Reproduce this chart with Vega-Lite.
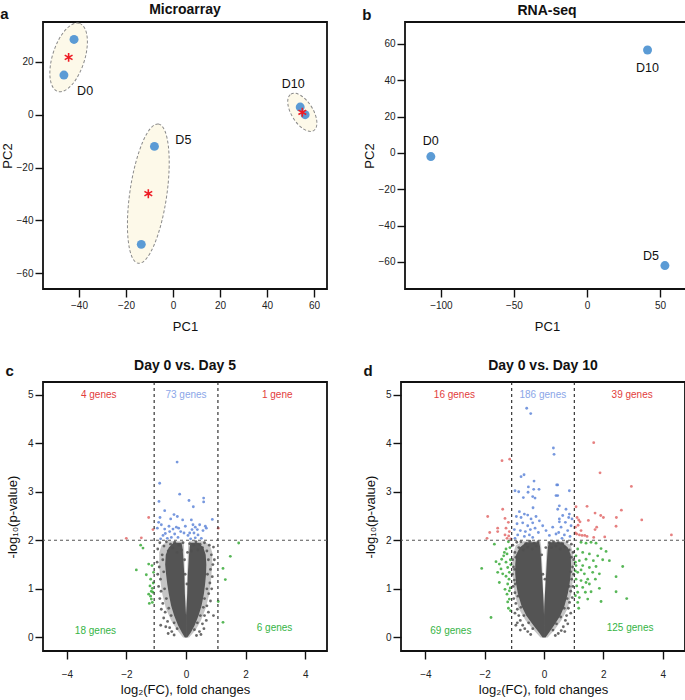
{
"$schema": "https://vega.github.io/schema/vega-lite/v6.json",
"padding": {"left": 0, "top": 2, "right": 0, "bottom": 0},
"config": {
  "font": "Liberation Sans",
  "view": {"stroke": "#111", "strokeWidth": 1.8},
  "axis": {"domain": false, "grid": false, "tickSize": 8, "tickWidth": 1.4, "tickColor": "#111", "labelFontSize": 10, "labelColor": "#222", "labelPadding": 2, "titleFontSize": 13, "titleFontWeight": "normal", "titleColor": "#111", "labelFont": "Liberation Sans", "titleFont": "Liberation Sans"},
  "title": {"fontSize": 14, "fontWeight": "bold", "font": "Liberation Sans", "color": "#111", "offset": 8}
},
"datasets": {
  "pcaA": [{"x":-42.1,"y":28.5,"grp":"D0"},{"x":-46.4,"y":15.0,"grp":"D0"},{"x":-7.9,"y":-12.0,"grp":"D5"},{"x":-13.5,"y":-49.1,"grp":"D5"},{"x":54.1,"y":2.9,"grp":"D10"},{"x":56.2,"y":0.0,"grp":"D10"}],
  "centA": [{"x":-44.4,"y":21.7,"grp":"D0"},{"x":-10.5,"y":-29.9,"grp":"D5"},{"x":55.0,"y":0.9,"grp":"D10"}],
  "labA": [{"x":-37.4,"y":8.9,"t":"D0"},{"x":4.4,"y":-9.7,"t":"D5"},{"x":51.1,"y":11.7,"t":"D10"}],
  "pcaB": [{"x":-106.9,"y":-2.0,"grp":"D0"},{"x":41.5,"y":56.7,"grp":"D10"},{"x":53.4,"y":-62.0,"grp":"D5"}],
  "labB": [{"x":-107.0,"y":6.6,"t":"D0"},{"x":41.5,"y":46.6,"t":"D10"},{"x":43.8,"y":-56.7,"t":"D5"}],
  "haloC": [
    {"y":0,"x":-0.1,"x2":0,"s":"L"},{"y":0.15,"x":-0.3,"x2":0,"s":"L"},{"y":0.35,"x":-0.5,"x2":0,"s":"L"},{"y":0.6,"x":-0.68,"x2":0,"s":"L"},{"y":0.9,"x":-0.8,"x2":-0.02,"s":"L"},{"y":1.2,"x":-0.87,"x2":-0.03,"s":"L"},{"y":1.5,"x":-0.9,"x2":-0.05,"s":"L"},{"y":1.75,"x":-0.9,"x2":-0.06,"s":"L"},{"y":1.9,"x":-0.82,"x2":-0.07,"s":"L"},{"y":1.98,"x":-0.6,"x2":-0.1,"s":"L"},
    {"y":0,"x":0,"x2":0.1,"s":"R"},{"y":0.15,"x":0,"x2":0.32,"s":"R"},{"y":0.35,"x":0,"x2":0.5,"s":"R"},{"y":0.6,"x":0,"x2":0.66,"s":"R"},{"y":0.9,"x":0.02,"x2":0.78,"s":"R"},{"y":1.2,"x":0.03,"x2":0.84,"s":"R"},{"y":1.5,"x":0.05,"x2":0.88,"s":"R"},{"y":1.75,"x":0.06,"x2":0.88,"s":"R"},{"y":1.9,"x":0.07,"x2":0.8,"s":"R"},{"y":1.98,"x":0.1,"x2":0.6,"s":"R"}
  ],
  "haloD": [
    {"y":0,"x":-0.12,"x2":0,"s":"L"},{"y":0.15,"x":-0.35,"x2":0,"s":"L"},{"y":0.35,"x":-0.62,"x2":0,"s":"L"},{"y":0.6,"x":-0.86,"x2":0,"s":"L"},{"y":0.9,"x":-0.99,"x2":-0.02,"s":"L"},{"y":1.2,"x":-1.04,"x2":-0.04,"s":"L"},{"y":1.5,"x":-1.06,"x2":-0.06,"s":"L"},{"y":1.75,"x":-1.03,"x2":-0.08,"s":"L"},{"y":1.9,"x":-0.95,"x2":-0.1,"s":"L"},{"y":1.98,"x":-0.7,"x2":-0.12,"s":"L"},
    {"y":0,"x":0,"x2":0.12,"s":"R"},{"y":0.15,"x":0,"x2":0.35,"s":"R"},{"y":0.35,"x":0,"x2":0.58,"s":"R"},{"y":0.6,"x":0,"x2":0.8,"s":"R"},{"y":0.9,"x":0.02,"x2":0.92,"s":"R"},{"y":1.2,"x":0.04,"x2":0.97,"s":"R"},{"y":1.5,"x":0.06,"x2":0.99,"s":"R"},{"y":1.75,"x":0.08,"x2":0.97,"s":"R"},{"y":1.9,"x":0.1,"x2":0.9,"s":"R"},{"y":1.98,"x":0.12,"x2":0.68,"s":"R"}
  ],
  "coreC": [
    {"y":0,"x":-0.04,"x2":0,"s":"L"},{"y":0.1,"x":-0.14,"x2":0,"s":"L"},{"y":0.25,"x":-0.27,"x2":0,"s":"L"},{"y":0.45,"x":-0.4,"x2":0,"s":"L"},{"y":0.65,"x":-0.5,"x2":-0.02,"s":"L"},{"y":0.9,"x":-0.58,"x2":-0.04,"s":"L"},{"y":1.1,"x":-0.63,"x2":-0.05,"s":"L"},{"y":1.3,"x":-0.67,"x2":-0.06,"s":"L"},{"y":1.5,"x":-0.7,"x2":-0.08,"s":"L"},{"y":1.7,"x":-0.68,"x2":-0.1,"s":"L"},{"y":1.85,"x":-0.58,"x2":-0.12,"s":"L"},{"y":1.95,"x":-0.42,"x2":-0.15,"s":"L"},
    {"y":0,"x":0,"x2":0.04,"s":"R"},{"y":0.1,"x":0,"x2":0.16,"s":"R"},{"y":0.25,"x":0,"x2":0.29,"s":"R"},{"y":0.45,"x":0,"x2":0.42,"s":"R"},{"y":0.65,"x":0.02,"x2":0.52,"s":"R"},{"y":0.9,"x":0.04,"x2":0.6,"s":"R"},{"y":1.1,"x":0.05,"x2":0.64,"s":"R"},{"y":1.3,"x":0.06,"x2":0.67,"s":"R"},{"y":1.5,"x":0.08,"x2":0.68,"s":"R"},{"y":1.7,"x":0.1,"x2":0.66,"s":"R"},{"y":1.85,"x":0.12,"x2":0.58,"s":"R"},{"y":1.95,"x":0.15,"x2":0.42,"s":"R"}
  ],
  "coreD": [
    {"y":0,"x":-0.05,"x2":0,"s":"L"},{"y":0.1,"x":-0.17,"x2":0,"s":"L"},{"y":0.25,"x":-0.36,"x2":0,"s":"L"},{"y":0.45,"x":-0.6,"x2":0,"s":"L"},{"y":0.65,"x":-0.76,"x2":-0.01,"s":"L"},{"y":0.9,"x":-0.88,"x2":-0.03,"s":"L"},{"y":1.1,"x":-0.94,"x2":-0.05,"s":"L"},{"y":1.3,"x":-0.97,"x2":-0.07,"s":"L"},{"y":1.5,"x":-0.97,"x2":-0.09,"s":"L"},{"y":1.7,"x":-0.94,"x2":-0.11,"s":"L"},{"y":1.85,"x":-0.82,"x2":-0.13,"s":"L"},{"y":1.96,"x":-0.6,"x2":-0.16,"s":"L"},
    {"y":0,"x":0,"x2":0.05,"s":"R"},{"y":0.1,"x":0,"x2":0.17,"s":"R"},{"y":0.25,"x":0,"x2":0.34,"s":"R"},{"y":0.45,"x":0,"x2":0.55,"s":"R"},{"y":0.65,"x":0.01,"x2":0.69,"s":"R"},{"y":0.9,"x":0.03,"x2":0.8,"s":"R"},{"y":1.1,"x":0.05,"x2":0.86,"s":"R"},{"y":1.3,"x":0.07,"x2":0.9,"s":"R"},{"y":1.5,"x":0.09,"x2":0.91,"s":"R"},{"y":1.7,"x":0.11,"x2":0.9,"s":"R"},{"y":1.85,"x":0.13,"x2":0.8,"s":"R"},{"y":1.96,"x":0.16,"x2":0.6,"s":"R"}
  ],
  "volC": [
    {"x":-0.95,"y":1.82,"g":"n"},{"x":-0.88,"y":1.95,"g":"n"},{"x":-0.8,"y":1.7,"g":"n"},{"x":-0.74,"y":1.88,"g":"n"},{"x":-0.66,"y":1.97,"g":"n"},{"x":-0.6,"y":1.78,"g":"n"},{"x":-0.52,"y":1.92,"g":"n"},{"x":-0.45,"y":1.84,"g":"n"},{"x":-0.38,"y":1.96,"g":"n"},{"x":-0.3,"y":1.75,"g":"n"},{"x":-0.24,"y":1.9,"g":"n"},{"x":-0.15,"y":1.8,"g":"n"},{"x":-0.1,"y":1.95,"g":"n"},{"x":0.12,"y":1.93,"g":"n"},{"x":0.18,"y":1.78,"g":"n"},{"x":0.26,"y":1.9,"g":"n"},{"x":0.33,"y":1.97,"g":"n"},{"x":0.4,"y":1.8,"g":"n"},{"x":0.47,"y":1.92,"g":"n"},{"x":0.55,"y":1.85,"g":"n"},{"x":0.62,"y":1.95,"g":"n"},{"x":0.7,"y":1.78,"g":"n"},{"x":0.78,"y":1.9,"g":"n"},{"x":0.85,"y":1.7,"g":"n"},{"x":0.92,"y":1.86,"g":"n"},{"x":0.95,"y":1.6,"g":"n"},
    {"x":-0.97,"y":1.55,"g":"n"},{"x":-0.9,"y":1.45,"g":"n"},{"x":-0.95,"y":1.3,"g":"n"},{"x":-0.86,"y":1.2,"g":"n"},{"x":-0.92,"y":1.05,"g":"n"},{"x":-0.84,"y":0.95,"g":"n"},{"x":-0.88,"y":0.8,"g":"n"},{"x":-0.78,"y":0.7,"g":"n"},{"x":-0.83,"y":0.58,"g":"n"},{"x":-0.7,"y":0.52,"g":"n"},{"x":-0.75,"y":0.4,"g":"n"},{"x":-0.62,"y":0.33,"g":"n"},{"x":-0.68,"y":0.22,"g":"n"},{"x":-0.55,"y":0.2,"g":"n"},{"x":-0.48,"y":0.12,"g":"n"},{"x":-0.85,"y":0.25,"g":"n"},{"x":-0.6,"y":0.08,"g":"n"},{"x":-0.4,"y":0.05,"g":"n"},
    {"x":0.9,"y":1.5,"g":"n"},{"x":0.82,"y":1.4,"g":"n"},{"x":0.88,"y":1.25,"g":"n"},{"x":0.8,"y":1.12,"g":"n"},{"x":0.86,"y":1.0,"g":"n"},{"x":0.76,"y":0.9,"g":"n"},{"x":0.82,"y":0.75,"g":"n"},{"x":0.7,"y":0.65,"g":"n"},{"x":0.75,"y":0.52,"g":"n"},{"x":0.62,"y":0.45,"g":"n"},{"x":0.68,"y":0.35,"g":"n"},{"x":0.55,"y":0.28,"g":"n"},{"x":0.6,"y":0.18,"g":"n"},{"x":0.45,"y":0.12,"g":"n"},{"x":0.92,"y":0.45,"g":"n"},{"x":0.5,"y":0.06,"g":"n"},{"x":0.35,"y":0.04,"g":"n"},
    {"x":-0.78,"y":1.6,"g":"n"},{"x":-0.75,"y":1.35,"g":"n"},{"x":-0.72,"y":1.0,"g":"n"},{"x":-0.66,"y":0.8,"g":"n"},{"x":-0.58,"y":0.6,"g":"n"},{"x":-0.5,"y":0.45,"g":"n"},{"x":-0.4,"y":0.3,"g":"n"},{"x":-0.3,"y":0.18,"g":"n"},{"x":0.75,"y":1.6,"g":"n"},{"x":0.72,"y":1.3,"g":"n"},{"x":0.7,"y":1.0,"g":"n"},{"x":0.62,"y":0.8,"g":"n"},{"x":0.58,"y":0.62,"g":"n"},{"x":0.48,"y":0.45,"g":"n"},{"x":0.38,"y":0.3,"g":"n"},{"x":0.28,"y":0.16,"g":"n"},{"x":-0.05,"y":1.6,"g":"n"},{"x":0.05,"y":1.75,"g":"n"},{"x":-0.03,"y":1.3,"g":"n"},{"x":0.03,"y":1.1,"g":"n"},
    {"x":-0.3,"y":3.61,"g":"b"},{"x":-0.885,"y":3.175,"g":"b"},{"x":-0.908,"y":2.8,"g":"b"},{"x":-0.214,"y":2.95,"g":"b"},{"x":-0.717,"y":2.61,"g":"b"},{"x":0.099,"y":2.82,"g":"b"},{"x":0.244,"y":2.69,"g":"b"},{"x":0.591,"y":2.87,"g":"b"},{"x":0.591,"y":2.79,"g":"b"},{"x":0.882,"y":2.43,"g":"b"},{"x":-0.404,"y":2.53,"g":"b"},{"x":-0.292,"y":2.49,"g":"b"},{"x":-0.516,"y":2.44,"g":"b"},{"x":-0.114,"y":2.42,"g":"b"},{"x":-0.874,"y":2.47,"g":"b"},{"x":-0.919,"y":2.37,"g":"b"},{"x":-0.829,"y":2.32,"g":"b"},{"x":-0.963,"y":2.25,"g":"b"},{"x":-0.717,"y":2.23,"g":"b"},{"x":-0.572,"y":2.29,"g":"b"},{"x":-0.438,"y":2.23,"g":"b"},{"x":-0.326,"y":2.27,"g":"b"},{"x":-0.248,"y":2.25,"g":"b"},{"x":-0.18,"y":2.18,"g":"b"},{"x":-0.382,"y":2.13,"g":"b"},{"x":-0.493,"y":2.06,"g":"b"},{"x":-0.773,"y":2.1,"g":"b"},{"x":-0.628,"y":2.04,"g":"b"},{"x":-0.852,"y":2.03,"g":"b"},{"x":-0.27,"y":2.06,"g":"b"},{"x":-0.024,"y":2.29,"g":"b"},{"x":0.178,"y":2.42,"g":"b"},{"x":0.233,"y":2.32,"g":"b"},{"x":0.31,"y":2.27,"g":"b"},{"x":0.457,"y":2.32,"g":"b"},{"x":0.379,"y":2.22,"g":"b"},{"x":0.2,"y":2.22,"g":"b"},{"x":0.122,"y":2.15,"g":"b"},{"x":0.266,"y":2.15,"g":"b"},{"x":0.401,"y":2.11,"g":"b"},{"x":0.569,"y":2.2,"g":"b"},{"x":0.681,"y":2.25,"g":"b"},{"x":0.647,"y":2.29,"g":"b"},{"x":0.31,"y":2.05,"g":"b"},{"x":0.065,"y":2.1,"g":"b"},{"x":0.155,"y":2.03,"g":"b"},{"x":-0.55,"y":2.18,"g":"b"},{"x":-0.695,"y":2.14,"g":"b"},{"x":-0.069,"y":2.15,"g":"b"},{"x":0.513,"y":2.04,"g":"b"},
    {"x":-1.254,"y":2.47,"g":"r"},{"x":-1.109,"y":2.22,"g":"r"},{"x":-2.004,"y":2.04,"g":"r"},{"x":-1.5,"y":2.05,"g":"r"},{"x":1.08,"y":2.25,"g":"r"},
    {"x":-1.523,"y":1.9,"g":"g"},{"x":-1.445,"y":1.84,"g":"g"},{"x":-1.254,"y":1.51,"g":"g"},{"x":-1.668,"y":1.39,"g":"g"},{"x":-1.333,"y":1.29,"g":"g"},{"x":-1.187,"y":1.2,"g":"g"},{"x":-1.131,"y":1.01,"g":"g"},{"x":-1.165,"y":0.95,"g":"g"},{"x":-1.254,"y":0.89,"g":"g"},{"x":-1.165,"y":0.79,"g":"g"},{"x":-1.232,"y":0.7,"g":"g"},{"x":-1.142,"y":1.48,"g":"g"},{"x":-1.09,"y":1.34,"g":"g"},{"x":-1.21,"y":1.06,"g":"g"},{"x":-1.11,"y":0.93,"g":"g"},{"x":-1.13,"y":0.72,"g":"g"},{"x":-1.19,"y":0.85,"g":"g"},{"x":-1.1,"y":1.12,"g":"g"},
    {"x":1.766,"y":1.945,"g":"g"},{"x":1.486,"y":1.67,"g":"g"},{"x":1.24,"y":1.42,"g":"g"},{"x":1.318,"y":1.19,"g":"g"},{"x":1.08,"y":0.74,"g":"g"},{"x":1.24,"y":0.31,"g":"g"}
  ],
  "volD": [
    {"x":-1.05,"y":1.9,"g":"n"},{"x":-0.98,"y":1.75,"g":"n"},{"x":-0.92,"y":1.96,"g":"n"},{"x":-0.85,"y":1.85,"g":"n"},{"x":-0.78,"y":1.97,"g":"n"},{"x":-0.7,"y":1.8,"g":"n"},{"x":-0.62,"y":1.93,"g":"n"},{"x":-0.55,"y":1.86,"g":"n"},{"x":-0.48,"y":1.98,"g":"n"},{"x":-0.4,"y":1.82,"g":"n"},{"x":-0.33,"y":1.94,"g":"n"},{"x":-0.26,"y":1.88,"g":"n"},{"x":-0.2,"y":1.97,"g":"n"},{"x":0.18,"y":1.95,"g":"n"},{"x":0.25,"y":1.85,"g":"n"},{"x":0.32,"y":1.97,"g":"n"},{"x":0.4,"y":1.88,"g":"n"},{"x":0.48,"y":1.95,"g":"n"},{"x":0.55,"y":1.82,"g":"n"},{"x":0.63,"y":1.93,"g":"n"},{"x":0.7,"y":1.86,"g":"n"},{"x":0.78,"y":1.97,"g":"n"},{"x":0.85,"y":1.8,"g":"n"},{"x":0.92,"y":1.92,"g":"n"},{"x":0.98,"y":1.75,"g":"n"},
    {"x":-1.06,"y":1.6,"g":"n"},{"x":-1.03,"y":1.45,"g":"n"},{"x":-1.07,"y":1.3,"g":"n"},{"x":-1.0,"y":1.18,"g":"n"},{"x":-1.04,"y":1.05,"g":"n"},{"x":-0.98,"y":0.92,"g":"n"},{"x":-1.02,"y":0.8,"g":"n"},{"x":-0.95,"y":0.7,"g":"n"},{"x":-0.9,"y":0.58,"g":"n"},{"x":-0.98,"y":0.5,"g":"n"},{"x":-0.85,"y":0.45,"g":"n"},{"x":-0.8,"y":0.35,"g":"n"},{"x":-0.9,"y":0.3,"g":"n"},{"x":-0.72,"y":0.25,"g":"n"},{"x":-0.65,"y":0.18,"g":"n"},{"x":-0.55,"y":0.12,"g":"n"},{"x":-0.8,"y":0.15,"g":"n"},{"x":-0.45,"y":0.06,"g":"n"},{"x":-0.95,"y":0.25,"g":"n"},
    {"x":1.0,"y":1.6,"g":"n"},{"x":0.96,"y":1.45,"g":"n"},{"x":1.0,"y":1.3,"g":"n"},{"x":0.93,"y":1.2,"g":"n"},{"x":0.97,"y":1.05,"g":"n"},{"x":0.9,"y":0.95,"g":"n"},{"x":0.95,"y":0.82,"g":"n"},{"x":0.86,"y":0.72,"g":"n"},{"x":0.82,"y":0.6,"g":"n"},{"x":0.9,"y":0.5,"g":"n"},{"x":0.76,"y":0.45,"g":"n"},{"x":0.72,"y":0.35,"g":"n"},{"x":0.8,"y":0.28,"g":"n"},{"x":0.65,"y":0.22,"g":"n"},{"x":0.58,"y":0.14,"g":"n"},{"x":0.48,"y":0.08,"g":"n"},{"x":0.7,"y":0.12,"g":"n"},{"x":0.38,"y":0.04,"g":"n"},
    {"x":-0.95,"y":1.65,"g":"n"},{"x":-0.99,"y":1.4,"g":"n"},{"x":-0.97,"y":1.1,"g":"n"},{"x":-0.88,"y":0.85,"g":"n"},{"x":-0.78,"y":0.62,"g":"n"},{"x":-0.68,"y":0.45,"g":"n"},{"x":-0.52,"y":0.3,"g":"n"},{"x":-0.38,"y":0.18,"g":"n"},{"x":0.92,"y":1.65,"g":"n"},{"x":0.9,"y":1.35,"g":"n"},{"x":0.85,"y":1.05,"g":"n"},{"x":0.78,"y":0.8,"g":"n"},{"x":0.68,"y":0.6,"g":"n"},{"x":0.56,"y":0.42,"g":"n"},{"x":0.42,"y":0.28,"g":"n"},{"x":0.3,"y":0.15,"g":"n"},{"x":-0.08,"y":1.7,"g":"n"},{"x":0.06,"y":1.85,"g":"n"},{"x":-0.04,"y":1.3,"g":"n"},{"x":0.03,"y":1.2,"g":"n"},
    {"x":-0.584,"y":4.72,"g":"b"},{"x":-0.449,"y":4.61,"g":"b"},{"x":0.315,"y":3.9,"g":"b"},{"x":0.337,"y":3.77,"g":"b"},{"x":-0.775,"y":3.31,"g":"b"},{"x":-0.674,"y":3.35,"g":"b"},{"x":-0.337,"y":3.22,"g":"b"},{"x":-0.978,"y":3.02,"g":"b"},{"x":-0.854,"y":3.0,"g":"b"},{"x":-0.528,"y":3.1,"g":"b"},{"x":-0.539,"y":2.99,"g":"b"},{"x":-0.348,"y":3.05,"g":"b"},{"x":-0.169,"y":3.05,"g":"b"},{"x":-0.382,"y":2.9,"g":"b"},{"x":-0.303,"y":2.87,"g":"b"},{"x":-0.697,"y":2.88,"g":"b"},{"x":0.427,"y":3.14,"g":"b"},{"x":0.404,"y":2.92,"g":"b"},{"x":-0.371,"y":2.67,"g":"b"},{"x":-0.831,"y":2.59,"g":"b"},{"x":-0.663,"y":2.54,"g":"b"},{"x":-0.933,"y":2.49,"g":"b"},{"x":-0.775,"y":2.47,"g":"b"},{"x":-0.55,"y":2.52,"g":"b"},{"x":-0.438,"y":2.44,"g":"b"},{"x":-0.27,"y":2.49,"g":"b"},{"x":-0.157,"y":2.4,"g":"b"},{"x":-0.91,"y":2.34,"g":"b"},{"x":-0.719,"y":2.36,"g":"b"},{"x":-0.55,"y":2.3,"g":"b"},{"x":-0.382,"y":2.36,"g":"b"},{"x":-1.0,"y":2.22,"g":"b"},{"x":-0.798,"y":2.2,"g":"b"},{"x":-0.629,"y":2.18,"g":"b"},{"x":-0.46,"y":2.22,"g":"b"},{"x":-0.303,"y":2.25,"g":"b"},{"x":-0.191,"y":2.16,"g":"b"},{"x":-0.888,"y":2.11,"g":"b"},{"x":-0.663,"y":2.08,"g":"b"},{"x":-0.494,"y":2.11,"g":"b"},{"x":-0.382,"y":2.06,"g":"b"},{"x":-0.978,"y":2.04,"g":"b"},{"x":-0.045,"y":2.3,"g":"b"},{"x":0.067,"y":2.2,"g":"b"},{"x":0.18,"y":2.1,"g":"b"},{"x":0.292,"y":2.27,"g":"b"},{"x":0.461,"y":2.64,"g":"b"},{"x":0.517,"y":2.38,"g":"b"},{"x":0.404,"y":2.13,"g":"b"},
    {"x":0.46,"y":3.14,"g":"b"},{"x":0.853,"y":3.02,"g":"b"},{"x":0.46,"y":2.92,"g":"b"},{"x":0.516,"y":2.71,"g":"b"},{"x":0.74,"y":2.64,"g":"b"},{"x":0.629,"y":2.51,"g":"b"},{"x":0.853,"y":2.54,"g":"b"},{"x":0.516,"y":2.44,"g":"b"},{"x":0.719,"y":2.37,"g":"b"},{"x":0.91,"y":2.3,"g":"b"},{"x":0.573,"y":2.27,"g":"b"},{"x":0.797,"y":2.2,"g":"b"},{"x":0.494,"y":2.16,"g":"b"},{"x":0.685,"y":2.11,"g":"b"},{"x":0.876,"y":2.08,"g":"b"},{"x":0.606,"y":2.04,"g":"b"},{"x":0.943,"y":2.44,"g":"b"},{"x":0.831,"y":2.47,"g":"b"},
    {"x":-1.416,"y":3.64,"g":"r"},{"x":-1.157,"y":3.67,"g":"r"},{"x":-1.393,"y":2.64,"g":"r"},{"x":-1.899,"y":2.49,"g":"r"},{"x":-1.315,"y":2.45,"g":"r"},{"x":-1.202,"y":2.37,"g":"r"},{"x":-1.562,"y":2.25,"g":"r"},{"x":-1.281,"y":2.25,"g":"r"},{"x":-1.831,"y":2.16,"g":"r"},{"x":-1.169,"y":2.18,"g":"r"},{"x":-1.562,"y":2.18,"g":"r"},{"x":-1.315,"y":2.11,"g":"r"},{"x":-1.921,"y":2.04,"g":"r"},{"x":-1.247,"y":2.04,"g":"r"},{"x":-1.191,"y":2.09,"g":"r"},{"x":-1.12,"y":2.03,"g":"r"},
    {"x":1.674,"y":4.01,"g":"r"},{"x":1.887,"y":3.39,"g":"r"},{"x":2.943,"y":3.11,"g":"r"},{"x":1.078,"y":2.69,"g":"r"},{"x":1.449,"y":2.7,"g":"r"},{"x":1.719,"y":2.56,"g":"r"},{"x":1.91,"y":2.51,"g":"r"},{"x":2.0,"y":2.47,"g":"r"},{"x":2.606,"y":2.62,"g":"r"},{"x":2.438,"y":2.47,"g":"r"},{"x":3.292,"y":2.42,"g":"r"},{"x":1.112,"y":2.47,"g":"r"},{"x":1.168,"y":2.42,"g":"r"},{"x":1.213,"y":2.38,"g":"r"},{"x":1.494,"y":2.41,"g":"r"},{"x":1.775,"y":2.27,"g":"r"},{"x":1.719,"y":2.22,"g":"r"},{"x":2.427,"y":2.29,"g":"r"},{"x":1.247,"y":2.2,"g":"r"},{"x":1.056,"y":2.15,"g":"r"},{"x":1.101,"y":2.13,"g":"r"},{"x":1.191,"y":2.11,"g":"r"},{"x":1.281,"y":2.1,"g":"r"},{"x":1.371,"y":2.1,"g":"r"},{"x":1.449,"y":2.08,"g":"r"},{"x":1.674,"y":2.06,"g":"r"},{"x":2.045,"y":2.07,"g":"r"},{"x":4.292,"y":2.11,"g":"r"},{"x":1.056,"y":2.27,"g":"r"},{"x":1.146,"y":2.31,"g":"r"},
    {"x":-1.674,"y":1.92,"g":"g"},{"x":-1.202,"y":1.97,"g":"g"},{"x":-1.281,"y":1.82,"g":"g"},{"x":-1.247,"y":1.72,"g":"g"},{"x":-1.36,"y":1.68,"g":"g"},{"x":-1.618,"y":1.56,"g":"g"},{"x":-1.506,"y":1.51,"g":"g"},{"x":-1.281,"y":1.55,"g":"g"},{"x":-2.101,"y":1.42,"g":"g"},{"x":-1.45,"y":1.41,"g":"g"},{"x":-1.225,"y":1.44,"g":"g"},{"x":-1.562,"y":1.34,"g":"g"},{"x":-1.393,"y":1.31,"g":"g"},{"x":-1.281,"y":1.26,"g":"g"},{"x":-1.169,"y":1.34,"g":"g"},{"x":-1.506,"y":1.13,"g":"g"},{"x":-1.225,"y":1.1,"g":"g"},{"x":-1.315,"y":0.99,"g":"g"},{"x":-1.169,"y":0.96,"g":"g"},{"x":-1.247,"y":0.89,"g":"g"},{"x":-1.169,"y":0.79,"g":"g"},{"x":-1.225,"y":0.73,"g":"g"},{"x":-1.787,"y":0.41,"g":"g"},{"x":-1.337,"y":1.75,"g":"g"},{"x":-1.135,"y":1.6,"g":"g"},{"x":-1.427,"y":1.61,"g":"g"},{"x":-1.15,"y":1.85,"g":"g"},{"x":-1.12,"y":1.5,"g":"g"},{"x":-1.18,"y":1.2,"g":"g"},{"x":-1.14,"y":1.02,"g":"g"},{"x":-1.2,"y":0.6,"g":"g"},{"x":-1.13,"y":0.55,"g":"g"},
    {"x":1.247,"y":1.96,"g":"g"},{"x":1.415,"y":1.94,"g":"g"},{"x":1.584,"y":1.96,"g":"g"},{"x":1.752,"y":1.94,"g":"g"},{"x":1.921,"y":1.83,"g":"g"},{"x":2.09,"y":1.77,"g":"g"},{"x":1.134,"y":1.82,"g":"g"},{"x":1.303,"y":1.75,"g":"g"},{"x":1.528,"y":1.72,"g":"g"},{"x":1.809,"y":1.68,"g":"g"},{"x":1.078,"y":1.68,"g":"g"},{"x":1.19,"y":1.58,"g":"g"},{"x":1.415,"y":1.61,"g":"g"},{"x":1.662,"y":1.58,"g":"g"},{"x":1.977,"y":1.6,"g":"g"},{"x":2.202,"y":1.58,"g":"g"},{"x":1.078,"y":1.48,"g":"g"},{"x":1.303,"y":1.48,"g":"g"},{"x":1.528,"y":1.44,"g":"g"},{"x":1.752,"y":1.46,"g":"g"},{"x":2.651,"y":1.46,"g":"g"},{"x":1.134,"y":1.34,"g":"g"},{"x":1.359,"y":1.31,"g":"g"},{"x":1.64,"y":1.34,"g":"g"},{"x":1.865,"y":1.31,"g":"g"},{"x":1.078,"y":1.2,"g":"g"},{"x":1.247,"y":1.17,"g":"g"},{"x":1.472,"y":1.2,"g":"g"},{"x":1.73,"y":1.2,"g":"g"},{"x":2.427,"y":1.25,"g":"g"},{"x":1.101,"y":1.06,"g":"g"},{"x":1.303,"y":1.03,"g":"g"},{"x":1.528,"y":1.1,"g":"g"},{"x":1.865,"y":1.01,"g":"g"},{"x":1.134,"y":0.93,"g":"g"},{"x":1.393,"y":0.93,"g":"g"},{"x":1.584,"y":0.94,"g":"g"},{"x":2.427,"y":0.94,"g":"g"},{"x":1.19,"y":0.82,"g":"g"},{"x":1.472,"y":0.79,"g":"g"},{"x":2.786,"y":0.8,"g":"g"},{"x":1.921,"y":0.74,"g":"g"},{"x":1.134,"y":0.72,"g":"g"},{"x":1.168,"y":0.6,"g":"g"},{"x":1.056,"y":1.55,"g":"g"},{"x":1.056,"y":1.37,"g":"g"},{"x":1.056,"y":0.86,"g":"g"},{"x":1.247,"y":1.39,"g":"g"},{"x":1.415,"y":1.13,"g":"g"}
  ],
  "txtC": [{"x":-2.93,"y":5.0,"t":"4 genes","g":"r"},{"x":0.0,"y":5.0,"t":"73 genes","g":"b"},{"x":3.06,"y":5.0,"t":"1 gene","g":"r"},{"x":-3.04,"y":0.14,"t":"18 genes","g":"g"},{"x":2.97,"y":0.19,"t":"6 genes","g":"g"}],
  "txtD": [{"x":-3.02,"y":5.0,"t":"16 genes","g":"r"},{"x":-0.04,"y":5.0,"t":"186 genes","g":"b"},{"x":2.97,"y":5.0,"t":"39 genes","g":"r"},{"x":-3.14,"y":0.14,"t":"69 genes","g":"g"},{"x":2.9,"y":0.19,"t":"125 genes","g":"g"}],
  "vC": [{"x":-1.07},{"x":1.07}],
  "vD": [{"x":-1.09},{"x":1.02}],
  "hl": [{"y":2}]
},
"spacing": 24,
"vconcat": [
 {"spacing": 34, "hconcat": [
  {"title": {"text": "a", "anchor": "start", "frame": "bounds", "fontSize": 15, "dy": 20, "offset": 0},
   "vconcat": [{
    "title": {"text": "Microarray", "offset": 4},
    "width": 284, "height": 267,
    "layer": [
     {"data": {"name": "centA"}, "transform": [{"filter": "datum.grp === 'D0'"}],
      "mark": {"type": "point", "shape": "M0,-1A0.45,1,0,1,1,0,1A0.45,1,0,1,1,0,-1Z", "size": 5100, "angle": 17.7, "filled": true, "fill": "#fdf9e9", "stroke": "#8a8a8a", "strokeWidth": 1, "strokeDash": [3, 2], "opacity": 1},
      "encoding": {
       "x": {"field": "x", "type": "quantitative", "scale": {"domain": [-55.3, 65.5], "nice": false, "zero": false}, "axis": {"values": [-40, -20, 0, 20, 40, 60], "title": "PC1", "labelPadding": 3, "titlePadding": 10}},
       "y": {"field": "y", "type": "quantitative", "scale": {"domain": [-66, 35.1], "nice": false, "zero": false}, "axis": {"values": [-60, -40, -20, 0, 20], "title": "PC2", "titlePadding": 2}}
      }},
     {"data": {"name": "centA"}, "transform": [{"filter": "datum.grp === 'D5'"}],
      "mark": {"type": "point", "shape": "M0,-1A0.263,1,0,1,1,0,1A0.263,1,0,1,1,0,-1Z", "size": 19800, "angle": 8.2, "filled": true, "fill": "#fdf9e9", "stroke": "#8a8a8a", "strokeWidth": 1, "strokeDash": [3, 2], "opacity": 1},
      "encoding": {"x": {"field": "x", "type": "quantitative"}, "y": {"field": "y", "type": "quantitative"}}},
     {"data": {"name": "centA"}, "transform": [{"filter": "datum.grp === 'D10'"}],
      "mark": {"type": "point", "shape": "M0,-1A0.5,1,0,1,1,0,1A0.5,1,0,1,1,0,-1Z", "size": 1850, "angle": 328, "filled": true, "fill": "#fdf9e9", "stroke": "#8a8a8a", "strokeWidth": 1, "strokeDash": [3, 2], "opacity": 1},
      "encoding": {"x": {"field": "x", "type": "quantitative"}, "y": {"field": "y", "type": "quantitative"}}},
     {"data": {"name": "pcaA"},
      "mark": {"type": "point", "filled": true, "size": 80, "color": "#5b9bd5", "opacity": 1},
      "encoding": {"x": {"field": "x", "type": "quantitative"}, "y": {"field": "y", "type": "quantitative"}}},
     {"data": {"name": "centA"},
      "mark": {"type": "point", "shape": "M0,-1L0,1M-0.87,-0.5L0.87,0.5M-0.87,0.5L0.87,-0.5", "size": 80, "filled": false, "color": "#ee1c25", "strokeWidth": 1.6, "opacity": 1},
      "encoding": {"x": {"field": "x", "type": "quantitative"}, "y": {"field": "y", "type": "quantitative"}}},
     {"data": {"name": "labA"},
      "mark": {"type": "text", "fontSize": 12.5, "color": "#111", "align": "center", "baseline": "middle"},
      "encoding": {"x": {"field": "x", "type": "quantitative"}, "y": {"field": "y", "type": "quantitative"}, "text": {"field": "t"}}}
    ]
   }]
  },
  {"title": {"text": "b", "anchor": "start", "frame": "bounds", "fontSize": 15, "dy": 20, "offset": 0},
   "vconcat": [{
    "title": {"text": "RNA-seq", "offset": 4},
    "width": 284, "height": 267,
    "layer": [
     {"data": {"name": "pcaB"},
      "mark": {"type": "point", "filled": true, "size": 80, "color": "#5b9bd5", "opacity": 1},
      "encoding": {
       "x": {"field": "x", "type": "quantitative", "scale": {"domain": [-124.6, 69.9], "nice": false, "zero": false}, "axis": {"values": [-100, -50, 0, 50], "title": "PC1", "labelPadding": 3, "titlePadding": 10}},
       "y": {"field": "y", "type": "quantitative", "scale": {"domain": [-74.9, 72.1], "nice": false, "zero": false}, "axis": {"values": [-60, -40, -20, 0, 20, 40, 60], "title": "PC2", "titlePadding": 2}}
      }},
     {"data": {"name": "labB"},
      "mark": {"type": "text", "fontSize": 12.5, "color": "#111", "align": "center", "baseline": "middle"},
      "encoding": {"x": {"field": "x", "type": "quantitative"}, "y": {"field": "y", "type": "quantitative"}, "text": {"field": "t"}}}
    ]
   }]
  }
 ]},
 {"spacing": 34, "hconcat": [
  {"title": {"text": "c", "anchor": "start", "frame": "bounds", "fontSize": 15, "dy": 20, "offset": 0},
   "vconcat": [{
    "title": {"text": "Day 0 vs. Day 5"},
    "width": 284, "height": 269,
    "layer": [
     {"data": {"name": "haloC"},
      "mark": {"type": "area", "orient": "horizontal", "color": "#5a5a5a", "opacity": 0.35},
      "encoding": {
       "y": {"field": "y", "type": "quantitative", "scale": {"domain": [-0.28, 5.26], "nice": false, "zero": false}, "axis": {"values": [0, 1, 2, 3, 4, 5], "title": "-log₁₀(p-value)", "titlePadding": 8}},
       "x": {"field": "x", "type": "quantitative", "scale": {"domain": [-4.8, 4.73], "nice": false, "zero": false}, "axis": {"values": [-4, -2, 0, 2, 4], "title": "log₂(FC), fold changes", "labelPadding": 10, "titlePadding": 4}},
       "x2": {"field": "x2"},
       "detail": {"field": "s"}
      }},
     {"data": {"name": "coreC"},
      "mark": {"type": "area", "orient": "horizontal", "color": "#4a4a4a", "opacity": 0.92},
      "encoding": {"y": {"field": "y", "type": "quantitative"}, "x": {"field": "x", "type": "quantitative"}, "x2": {"field": "x2"}, "detail": {"field": "s"}}},
     {"data": {"name": "volC"},
      "mark": {"type": "point", "filled": true, "size": 8, "opacity": 0.85},
      "encoding": {"x": {"field": "x", "type": "quantitative"}, "y": {"field": "y", "type": "quantitative"},
       "color": {"field": "g", "type": "nominal", "scale": {"domain": ["n", "b", "r", "g"], "range": ["#505050", "#5f86d8", "#e26a6a", "#3aaa3a"]}, "legend": null}}},
     {"data": {"name": "vC"},
      "mark": {"type": "rule", "strokeDash": [3, 3], "color": "#222", "strokeWidth": 1.1},
      "encoding": {"x": {"field": "x", "type": "quantitative"}}},
     {"data": {"name": "hl"},
      "mark": {"type": "rule", "strokeDash": [3, 3], "color": "#555", "strokeWidth": 1.1},
      "encoding": {"y": {"field": "y", "type": "quantitative"}}},
     {"data": {"name": "txtC"},
      "mark": {"type": "text", "fontSize": 10, "align": "center", "baseline": "middle"},
      "encoding": {"x": {"field": "x", "type": "quantitative"}, "y": {"field": "y", "type": "quantitative"}, "text": {"field": "t"},
       "fill": {"field": "g", "type": "nominal", "scale": {"domain": ["b", "r", "g"], "range": ["#8ba6e8", "#e23c3c", "#35b445"]}, "legend": null}}}
    ]
   }]
  },
  {"title": {"text": "d", "anchor": "start", "frame": "bounds", "fontSize": 15, "dy": 20, "offset": 0},
   "vconcat": [{
    "title": {"text": "Day 0 vs. Day 10"},
    "width": 284, "height": 269,
    "layer": [
     {"data": {"name": "haloD"},
      "mark": {"type": "area", "orient": "horizontal", "color": "#5a5a5a", "opacity": 0.35},
      "encoding": {
       "y": {"field": "y", "type": "quantitative", "scale": {"domain": [-0.28, 5.26], "nice": false, "zero": false}, "axis": {"values": [0, 1, 2, 3, 4, 5], "title": "-log₁₀(p-value)", "titlePadding": 8}},
       "x": {"field": "x", "type": "quantitative", "scale": {"domain": [-4.82, 4.75], "nice": false, "zero": false}, "axis": {"values": [-4, -2, 0, 2, 4], "title": "log₂(FC), fold changes", "labelPadding": 10, "titlePadding": 4}},
       "x2": {"field": "x2"},
       "detail": {"field": "s"}
      }},
     {"data": {"name": "coreD"},
      "mark": {"type": "area", "orient": "horizontal", "color": "#4a4a4a", "opacity": 0.92},
      "encoding": {"y": {"field": "y", "type": "quantitative"}, "x": {"field": "x", "type": "quantitative"}, "x2": {"field": "x2"}, "detail": {"field": "s"}}},
     {"data": {"name": "volD"},
      "mark": {"type": "point", "filled": true, "size": 8, "opacity": 0.85},
      "encoding": {"x": {"field": "x", "type": "quantitative"}, "y": {"field": "y", "type": "quantitative"},
       "color": {"field": "g", "type": "nominal", "scale": {"domain": ["n", "b", "r", "g"], "range": ["#505050", "#5f86d8", "#e26a6a", "#3aaa3a"]}, "legend": null}}},
     {"data": {"name": "vD"},
      "mark": {"type": "rule", "strokeDash": [3, 3], "color": "#222", "strokeWidth": 1.1},
      "encoding": {"x": {"field": "x", "type": "quantitative"}}},
     {"data": {"name": "hl"},
      "mark": {"type": "rule", "strokeDash": [3, 3], "color": "#555", "strokeWidth": 1.1},
      "encoding": {"y": {"field": "y", "type": "quantitative"}}},
     {"data": {"name": "txtD"},
      "mark": {"type": "text", "fontSize": 10, "align": "center", "baseline": "middle"},
      "encoding": {"x": {"field": "x", "type": "quantitative"}, "y": {"field": "y", "type": "quantitative"}, "text": {"field": "t"},
       "fill": {"field": "g", "type": "nominal", "scale": {"domain": ["b", "r", "g"], "range": ["#8ba6e8", "#e23c3c", "#35b445"]}, "legend": null}}}
    ]
   }]
  }
 ]}
]
}
